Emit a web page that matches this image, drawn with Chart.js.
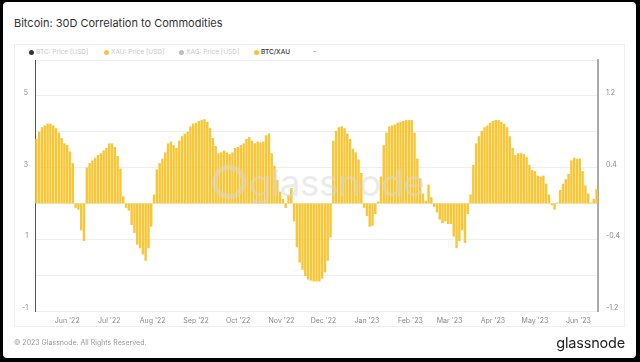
<!DOCTYPE html>
<html>
<head>
<meta charset="utf-8">
<script src="https://cdn.jsdelivr.net/npm/chart.js@4.4.1/dist/chart.umd.min.js"></script>
<style>
  html, body { margin: 0; padding: 0; background: #000; }
  body { width: 640px; height: 362px; position: relative; overflow: hidden; font-family: Inter, "Noto Sans", sans-serif; }
  #page { position: absolute; left: 3px; top: 2px; width: 633px; height: 356px; background: #fff; border-radius: 4px; }
  #frame { position: absolute; left: 14px; top: 44px; width: 611px; height: 283px; border: 1px solid #efefef; box-sizing: border-box; }
  #title { position: absolute; left: 14px; top: 16px; font-size: 11px; color: #333; white-space: nowrap; }
  #legend { position: absolute; left: 0; top: 47px; height: 10px; width: 640px; font-size: 6.5px; }
  .li { position: absolute; top: 0; white-space: nowrap; line-height: 10px; }
  .dot { display: inline-block; width: 5px; height: 5px; border-radius: 50%; margin-right: 2px; vertical-align: -0.5px; }
  #footer { position: absolute; left: 14px; top: 338px; font-size: 7px; color: #999; white-space: nowrap; }
  #logo { position: absolute; right: 15px; top: 334px; font-size: 14.5px; color: #222; white-space: nowrap; letter-spacing: -0.2px; }
  #wm { position: absolute; left: 212px; top: 160px; font-size: 37px; color: rgba(215,215,215,0.5); white-space: nowrap; pointer-events: none; letter-spacing: -0.5px; }
  #wm .ring { display: inline-block; width: 24px; height: 24px; border: 5px solid rgba(215,215,215,0.5); border-radius: 50%; margin-right: 3px; vertical-align: -3px; }
  #c { position: absolute; left: 0; top: 0; }
</style>
</head>
<body>
<div id="page"></div>
<div id="frame"></div>
<div id="title"></div>
<div id="legend"></div>
<canvas id="c" width="640" height="362"></canvas>
<div id="wm"><span class="ring"></span>glassnode</div>
<div id="footer"></div>
<div id="logo">glassnode</div>
<script>
// ---- data ----
const chartTitle = 'Bitcoin: 30D Correlation to Commodities';
const footerText = '\u00A9 2023 Glassnode. All Rights Reserved.';
const legendLabels = ['BTC: Price [USD]', 'XAU: Price [USD]', 'XAG: Price [USD]', 'BTC/XAU', '-'];
const legendColors = ['#333333', '#f5c542', '#bdbdbd', '#f5c133', null];
const legendActive = [false, false, false, true, false];
const monthNames = ['Jan','Feb','Mar','Apr','May','Jun','Jul','Aug','Sep','Oct','Nov','Dec'];
const startDate = '2022-05-10';
const stepDays = 2;
const endDay = 401;
const leftTickLabels = [5, 3, 1, -1];
const rightTickLabels = [1.2, 0.4, -0.4, -1.2];
const correlation = [
  0.72,0.80,0.85,0.87,0.89,0.89,0.87,0.84,0.79,0.73,
  0.67,0.65,0.58,0.45,-0.05,-0.07,-0.30,-0.42,0.40,0.45,
  0.48,0.51,0.54,0.56,0.59,0.62,0.67,0.67,0.63,0.53,
  0.39,0.08,-0.05,-0.08,-0.24,-0.33,-0.46,-0.50,-0.57,-0.64,
  -0.50,-0.26,0.10,0.38,0.45,0.50,0.57,0.67,0.69,0.65,
  0.62,0.70,0.75,0.78,0.80,0.86,0.89,0.90,0.92,0.93,
  0.94,0.91,0.84,0.73,0.64,0.56,0.57,0.59,0.57,0.55,
  0.57,0.62,0.63,0.65,0.67,0.72,0.74,0.70,0.67,0.69,
  0.68,0.69,0.76,0.78,0.56,0.42,0.26,0.13,0.05,-0.05,
  0.09,0.17,-0.20,-0.49,-0.66,-0.74,-0.81,-0.85,-0.86,-0.87,
  -0.87,-0.87,-0.84,-0.77,-0.64,-0.38,0.70,0.81,0.85,0.86,
  0.84,0.78,0.72,0.61,0.57,0.49,0.34,-0.05,-0.14,-0.26,
  -0.25,-0.12,0.02,0.30,0.65,0.79,0.86,0.87,0.88,0.90,
  0.91,0.92,0.93,0.93,0.93,0.79,0.50,0.28,0.11,0.03,
  0.21,0.07,-0.04,-0.10,-0.18,-0.22,-0.20,-0.23,-0.23,-0.37,
  -0.50,-0.42,-0.30,-0.44,-0.12,0.10,0.43,0.67,0.75,0.81,
  0.85,0.87,0.90,0.92,0.93,0.93,0.91,0.89,0.85,0.75,
  0.62,0.54,0.56,0.56,0.55,0.52,0.43,0.37,0.36,0.31,
  0.30,0.31,0.22,0.10,-0.02,-0.07,0.01,0.15,0.22,0.27,
  0.33,0.48,0.51,0.50,0.50,0.36,0.20,0.11,0.01,0.05,
  0.16
];

// ---- text ----
document.getElementById('title').textContent = chartTitle;
document.getElementById('footer').textContent = footerText;
const legendX = [29, 104, 179, 254, 313];
const lg = document.getElementById('legend');
legendLabels.forEach((t, i) => {
  const d = document.createElement('div');
  d.className = 'li';
  d.style.left = legendX[i] + 'px';
  if (legendColors[i]) {
    const s = document.createElement('span');
    s.className = 'dot';
    s.style.background = legendColors[i];
    d.appendChild(s);
  }
  const tx = document.createElement('span');
  tx.textContent = t;
  tx.style.color = legendActive[i] ? '#333' : '#c8c8c8';
  if (legendActive[i]) tx.style.fontWeight = '500';
  if (!legendColors[i]) tx.style.color = '#666';
  d.appendChild(tx);
  lg.appendChild(d);
});

// ---- build points ----
const DAY = 86400000;
const t0 = Date.parse(startDate + 'T00:00:00Z');
const points = correlation.map((v, i) => ({ x: i * stepDays, y: v }));
const monthTicks = [];
for (let d = 0; d <= endDay; d++) {
  const dt = new Date(t0 + d * DAY);
  if (dt.getUTCDate() === 1) monthTicks.push(d);
}
function monthLabel(d) {
  const dt = new Date(t0 + d * DAY);
  return monthNames[dt.getUTCMonth()] + " '" + String(dt.getUTCFullYear()).slice(2);
}

Chart.defaults.font.family = 'Inter, "Noto Sans", sans-serif';
Chart.defaults.animation = false;

new Chart(document.getElementById('c'), {
  type: 'bar',
  data: {
    datasets: [{
      label: 'BTC/XAU',
      data: points,
      yAxisID: 'y1',
      backgroundColor: '#f7c73a',
      borderWidth: 0,
      barPercentage: 0.88,
      categoryPercentage: 1.0
    }]
  },
  options: {
    responsive: false,
    animation: false,
    layout: { padding: { left: 0, right: 0, top: 60, bottom: 33 } },
    plugins: { legend: { display: false }, title: { display: false }, tooltip: { enabled: false } },
    scales: {
      x: {
        type: 'linear',
        offset: false,
        min: -1,
        max: endDay,
        grid: { display: false, drawTicks: false, offset: false },
        border: { display: false },
        afterBuildTicks: (s) => { s.ticks = monthTicks.map(v => ({ value: v })); },
        afterFit: (s) => { s.height = 18; },
        ticks: {
          autoSkip: false, maxRotation: 0, padding: 6,
          color: '#8a8a8a', font: { size: 7 },
          callback: (v) => monthLabel(v)
        }
      },
      y: {
        position: 'left',
        min: -1, max: 6,
        afterBuildTicks: (s) => { const a = []; for (let v = -1; v <= 6; v++) a.push({ value: v }); s.ticks = a; },
        afterFit: (s) => { s.width = 35; },
        grid: { color: '#eeeeee', drawTicks: false, lineWidth: 1 },
        border: { display: true, color: '#555555', width: 1 },
        ticks: {
          padding: 7, color: '#8a8a8a', font: { size: 7 }, labelOffset: -3,
          callback: (v) => leftTickLabels.includes(v) ? String(v) : ''
        }
      },
      y1: {
        position: 'right',
        min: -1.2, max: 1.6,
        afterBuildTicks: (s) => { s.ticks = rightTickLabels.map(v => ({ value: v })); },
        afterFit: (s) => { s.width = 42; },
        grid: { display: false, drawTicks: false },
        border: { display: true, color: '#aaaaaa', width: 2 },
        ticks: {
          padding: 8, color: '#8a8a8a', font: { size: 7 }, labelOffset: -3,
          callback: (v) => String(Math.round(v * 10) / 10)
        }
      }
    }
  }
});
</script>
</body>
</html>
